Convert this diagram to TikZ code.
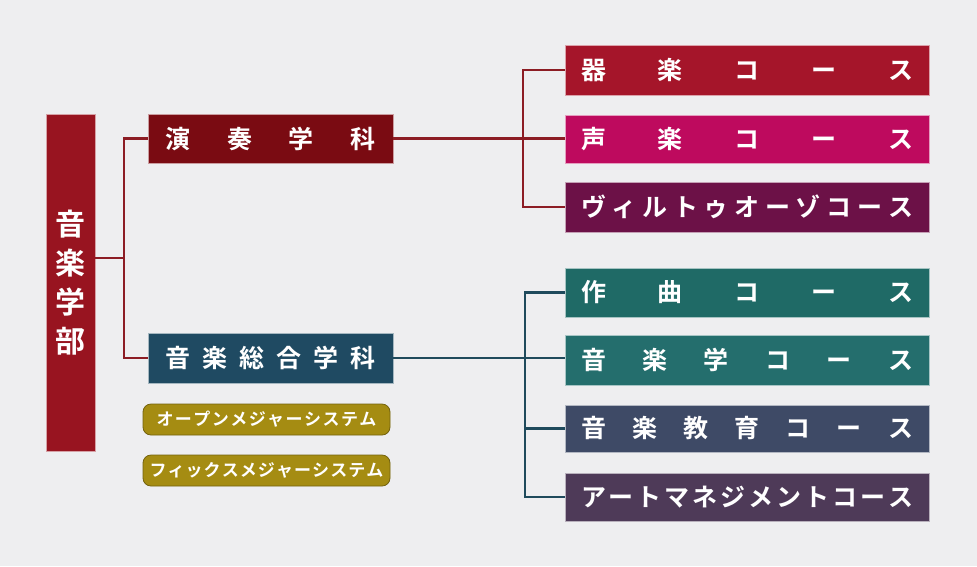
\documentclass[tikz,border=0pt]{standalone}
\usepackage{fontspec}
\setmainfont{Noto Sans CJK JP}[BoldFont={Noto Sans CJK JP Bold}]
\definecolor{bgc}{HTML}{EEEEF0}
\definecolor{cbu}{HTML}{981420}
\definecolor{censou}{HTML}{7A0B12}
\definecolor{ckigaku}{HTML}{A5152A}
\definecolor{cseigaku}{HTML}{BE0A5E}
\definecolor{cvirt}{HTML}{6C1147}
\definecolor{csogo}{HTML}{1F4A62}
\definecolor{csakkyoku}{HTML}{1F6A66}
\definecolor{congaku}{HTML}{246E6D}
\definecolor{ckyoiku}{HTML}{3E4A66}
\definecolor{cart}{HTML}{4E3A58}
\definecolor{cgold}{HTML}{A58C12}
\definecolor{credline}{HTML}{8C1C24}
\definecolor{cblueline}{HTML}{1F4A5C}
\tikzset{
  box/.style={rectangle, inner sep=0pt, text=white, font=\bfseries\fontsize{25}{28}\selectfont, draw=white!60!#1, line width=0.6pt, fill=#1},
  course/.style={box=#1, minimum width=364pt, minimum height=49pt},
  dept/.style={box=#1, minimum width=245pt, minimum height=49pt},
  pill/.style={rectangle, rounded corners=8pt, fill=cgold, draw=cgold!70!black, line width=0.8pt, inner sep=0pt, minimum width=247pt, minimum height=31pt, text=white, font=\bfseries\fontsize{17}{20}\selectfont},
  redline/.style={draw=credline, line width=2.2pt},
  blueline/.style={draw=cblueline, line width=2.2pt}
}
\newcommand{\spreadC}[1]{\makebox[332pt]{#1}}
\newcommand{\spreadD}[1]{\makebox[210pt]{#1}}
\begin{document}
\begin{tikzpicture}[x=1pt,y=-1pt]
\fill[bgc] (0,0) rectangle (977,566);
\useasboundingbox (0,0) rectangle (977,566);

% faculty
\node[box=cbu, minimum width=49pt, minimum height=337pt, align=center, font=\bfseries\fontsize{30}{39}\selectfont] (bu) at (70.5,283) {音\\楽\\学\\部};

% departments
\node[dept=censou] (ensou) at (270.5,138.5) {\spreadD{演\hfill 奏\hfill 学\hfill 科}};
\node[dept=csogo, minimum height=50pt] (sogo) at (270.5,358) {\spreadD{音\hfill 楽\hfill 総\hfill 合\hfill 学\hfill 科}};

% systems
\node[pill] (open) at (266.5,419.5) {\makebox[220pt]{オ\hfill ー\hfill プ\hfill ン\hfill メ\hfill ジ\hfill ャ\hfill ー\hfill シ\hfill ス\hfill テ\hfill ム}};
\node[pill] (fix) at (266.5,470.5) {\makebox[234pt]{フ\hfill ィ\hfill ッ\hfill ク\hfill ス\hfill メ\hfill ジ\hfill ャ\hfill ー\hfill シ\hfill ス\hfill テ\hfill ム}};

% courses
\node[course=ckigaku, minimum height=50pt] (kigaku) at (747,70) {\spreadC{器\hfill 楽\hfill コ\hfill ー\hfill ス}};
\node[course=cseigaku, minimum height=48pt] (seigaku) at (747,139) {\spreadC{声\hfill 楽\hfill コ\hfill ー\hfill ス}};
\node[course=cvirt, minimum height=50pt] (virt) at (747,207) {\spreadC{ヴ\hfill ィ\hfill ル\hfill ト\hfill ゥ\hfill オ\hfill ー\hfill ゾ\hfill コ\hfill ー\hfill ス}};
\node[course=csakkyoku] (sakkyoku) at (747,292.5) {\spreadC{作\hfill 曲\hfill コ\hfill ー\hfill ス}};
\node[course=congaku, minimum height=50pt] (ongaku) at (747,360) {\spreadC{音\hfill 楽\hfill 学\hfill コ\hfill ー\hfill ス}};
\node[course=ckyoiku, minimum height=47pt] (kyoiku) at (747,428.5) {\spreadC{音\hfill 楽\hfill 教\hfill 育\hfill コ\hfill ー\hfill ス}};
\node[course=cart, minimum height=48pt] (art) at (747,497) {\spreadC{ア\hfill ー\hfill ト\hfill マ\hfill ネ\hfill ジ\hfill メ\hfill ン\hfill ト\hfill コ\hfill ー\hfill ス}};

% junctions
\coordinate (ja) at (124,258);
\coordinate (jb) at (523,139);
\coordinate (jc) at (525,360);

% connectors: faculty to departments
\draw[redline] (ja -| bu.east) -- (ja);
\draw[redline] (ensou.west) -| (ja) |- (sogo.west);

% connectors: 演奏学科 to courses
\draw[redline] (ensou.east) -- (ensou.east -| seigaku.west);
\draw[redline] (kigaku.west) -| (jb) |- (virt.west);

% connectors: 音楽総合学科 to courses
\draw[blueline] (sogo.east) -- (sogo.east -| ongaku.west);
\draw[blueline] (sakkyoku.west) -| (jc) |- (art.west);
\draw[blueline] (jc |- kyoiku.west) -- (kyoiku.west);
\end{tikzpicture}
\end{document}
